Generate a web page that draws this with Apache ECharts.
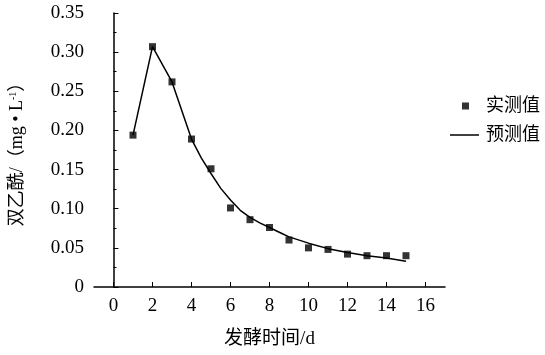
<!DOCTYPE html>
<html><head><meta charset="utf-8">
<script src="https://cdn.jsdelivr.net/npm/echarts@6/dist/echarts.min.js"></script>
<style>html,body{margin:0;padding:0;background:#fff}#c{width:545px;height:355px}</style>
</head><body><div id="c"></div>
<script>
const measuredX = [1,2,3,4,5,6,7,8,9,10,11,12,13,14,15];
const measuredY = [0.194,0.307,0.262,0.189,0.151,0.101,0.086,0.076,0.060,0.050,0.048,0.042,0.040,0.040,0.040];
const predX = [1,2,3,4,4.5,5,5.5,6,6.5,7,7.5,8,8.5,9,10,11,12,13,14,15];
const predY = [0.194,0.307,0.262,0.189,0.165,0.145,0.126,0.111,0.098,0.089,0.082,0.076,0.070,0.064,0.056,0.049,0.044,0.040,0.037,0.033];
const xTicks = [0,2,4,6,8,10,12,14,16];
const seriesNames = ['实测值','预测值'];
const xName = '发酵时间/d';

const serif = '"Liberation Serif", "Noto Sans CJK SC", serif';
const chart = echarts.init(document.getElementById('c'));
chart.setOption({
  animation:false,
  grid:{left:91,top:13,right:100,bottom:68,containLabel:false},
  legend:[{
    left:457, top:92,
    itemWidth:7, itemHeight:7,
    textStyle:{fontFamily:serif,fontSize:18,color:'#000',padding:[0,0,0,12]},
    data:[{name:seriesNames[0],icon:'rect',itemStyle:{color:'#000'}}]
  },{
    left:445, top:121,
    itemWidth:29, itemHeight:1.5,
    textStyle:{fontFamily:serif,fontSize:18,color:'#000',padding:[0,0,0,2]},
    data:[{name:seriesNames[1],icon:'rect',itemStyle:{color:'#000'}}]
  }],
  xAxis:{
    type:'value', min:-1, max:17, interval:2,
    name:xName, nameLocation:'middle', nameGap:43,
    nameTextStyle:{fontFamily:serif,fontSize:19,color:'#000'},
    axisLine:{onZero:false,lineStyle:{color:'#000',width:1.5}},
    axisTick:{inside:true,length:5,lineStyle:{color:'#000'},customValues:xTicks},
    minorTick:{show:true,splitNumber:2,length:3,lineStyle:{color:'#000'}},
    axisLabel:{fontFamily:serif,fontSize:19,color:'#000',margin:10,customValues:xTicks},
    splitLine:{show:false}
  },
  yAxis:{
    type:'value', min:0, max:0.35, interval:0.05,
    name:'{a|双乙酰/（mg • L}{s|-1}{a|）}', nameLocation:'middle', nameGap:68, nameRotate:90,
    nameTextStyle:{fontFamily:serif,fontSize:18,color:'#000',
      rich:{a:{fontFamily:serif,fontSize:18,color:'#000'},s:{fontFamily:serif,fontSize:10,color:'#000',verticalAlign:'top',padding:[0,0,8,0]}}},
    axisLine:{show:true,lineStyle:{color:'#000',width:1.5}},
    axisTick:{inside:true,length:5,lineStyle:{color:'#000'}},
    minorTick:{show:true,splitNumber:2,length:3,lineStyle:{color:'#000'}},
    axisLabel:{fontFamily:serif,fontSize:19,color:'#000',margin:10,formatter:v=>v===0?'0':v.toFixed(2)},
    splitLine:{show:false}
  },
  series:[
    {name:seriesNames[0],type:'scatter',symbol:'rect',symbolSize:7,itemStyle:{color:'#000'},
     data:measuredX.map((x,i)=>[x,measuredY[i]]),z:3},
    {name:seriesNames[1],type:'line',showSymbol:false,symbol:'none',smooth:false,
     lineStyle:{color:'#000',width:1.5},itemStyle:{color:'#000'},
     data:predX.map((x,i)=>[x,predY[i]]),z:2}
  ]
});
</script></body></html>
